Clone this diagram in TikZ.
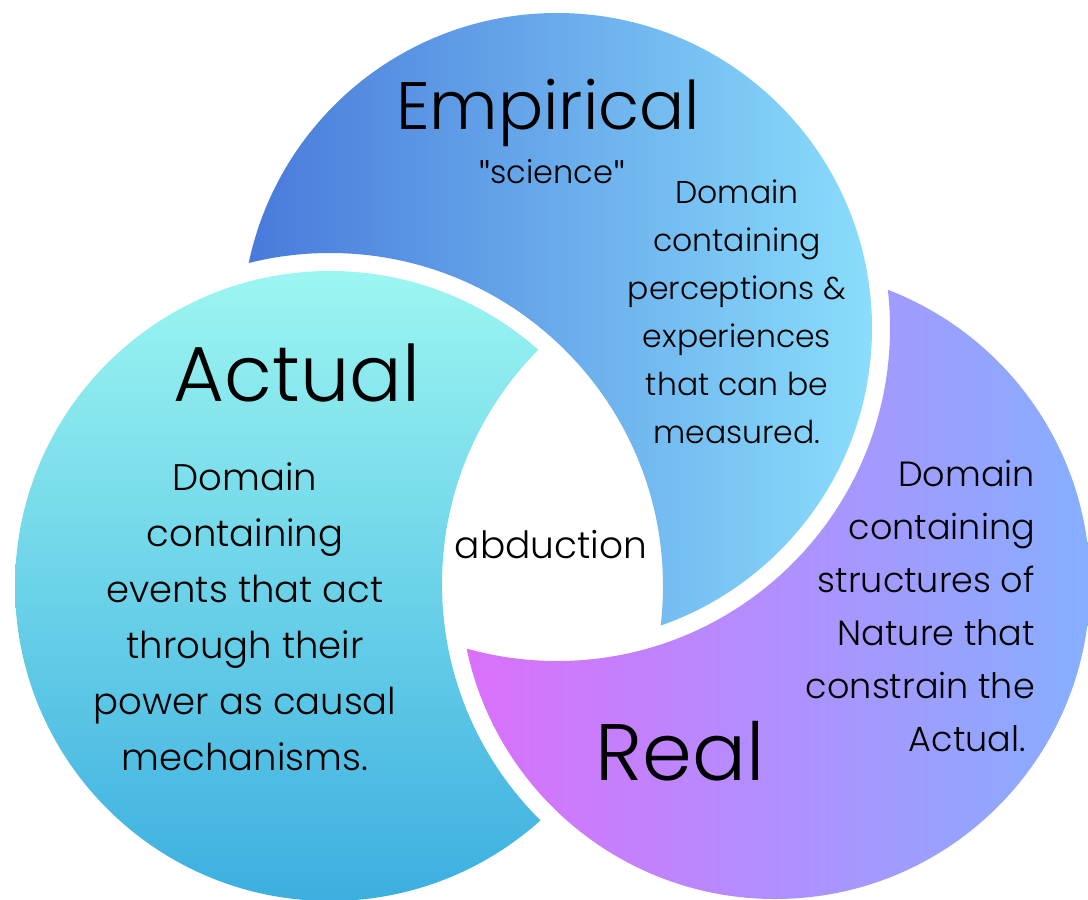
\documentclass[tikz,border=0pt]{standalone}
\usepackage{fontspec}
\setmainfont{Poppins Light}
\newfontfamily\quotefont{Lato}
\definecolor{actTop}{HTML}{9CF6F1}
\definecolor{actBot}{HTML}{3CAFE0}
\definecolor{empLeft}{HTML}{4879DA}
\definecolor{empRight}{HTML}{8ADDFC}
\definecolor{realLeft}{HTML}{DB6FFB}
\definecolor{realRight}{HTML}{86AFFF}
\newcommand{\sq}{{\quotefont\symbol{34}}}
\begin{document}
\begin{tikzpicture}[x=1pt,y=-1pt,
  lbl/.style={inner sep=0pt, text=black},
  head/.style={lbl, anchor=base},
  body/.style={lbl, align=center}]
\useasboundingbox (0,0) rectangle (1088,900);
\fill[white] (0,0) rectangle (1088,900);
\def\rr{315}
\def\RR{333}
\coordinate (A) at (330,586);
\coordinate (E) at (557,328);
\coordinate (R) at (775,584);
% Empirical (cut by Actual)
\begin{scope}[even odd rule]
  \clip (A) circle[radius=\RR] (0,0) rectangle (1088,900);
  \shade[left color=empLeft, right color=empRight] (E) circle[radius=\rr];
\end{scope}
% Actual (cut by Real)
\begin{scope}[even odd rule]
  \clip (R) circle[radius=\RR] (0,0) rectangle (1088,900);
  \shade[top color=actTop, bottom color=actBot] (A) circle[radius=\rr];
\end{scope}
% Real (cut by Empirical)
\begin{scope}[even odd rule]
  \clip (E) circle[radius=\RR] (0,0) rectangle (1088,900);
  \shade[left color=realLeft, right color=realRight] (R) circle[radius=\rr];
\end{scope}
% texts
\node[head, font=\fontsize{67}{67}\selectfont] (emp) at (548,129) {Empirical};
\node[head, font=\fontsize{32}{32}\selectfont] (sci) at (552,183) {\sq science\sq};
\node[body, anchor=north, font=\fontsize{31.5}{48}\selectfont] (empbody) at (737,180)
  {Domain\\containing\\perceptions \&\\experiences\\that can be\\measured.};
\node[head, font=\fontsize{78}{78}\selectfont] (act) at (297,401) {Actual};
\node[body, anchor=north, font=\fontsize{37}{56}\selectfont] (actbody) at (245,462)
  {Domain\\containing\\events that act\\through their\\power as causal\\mechanisms.};
\node[head, font=\fontsize{80}{80}\selectfont] (real) at (680,780) {Real};
\node[lbl, align=right, anchor=north east, font=\fontsize{35}{53}\selectfont] (realbody) at (1035,460)
  {Domain\\containing\\structures of\\Nature that\\constrain the\\Actual.\hspace*{9pt}};
\node[head, font=\fontsize{37.5}{37.5}\selectfont] (abd) at (551,558) {abduction};
\end{tikzpicture}
\end{document}
